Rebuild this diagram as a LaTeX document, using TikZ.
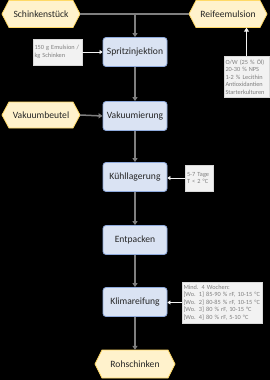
\documentclass[tikz,border=0pt]{standalone}
\usepackage{fontspec}
\setmainfont{Carlito}
\usetikzlibrary{arrows.meta}
\definecolor{procfill}{HTML}{DAE3F3}
\definecolor{procdraw}{HTML}{8FAADC}
\definecolor{hexfill}{HTML}{FFF2CC}
\definecolor{hexdraw}{HTML}{FFD966}
\definecolor{notefill}{HTML}{F2F2F2}
\definecolor{notedraw}{HTML}{D9D9D9}
\definecolor{notetext}{HTML}{7F7F7F}
\definecolor{arrgray}{HTML}{7F7F7F}
\definecolor{maintext}{HTML}{262626}
\newcommand\hexnode[6]{%
  \draw[hexs] ({#2-#4/2},#3) -- ({#2-#4/2+7},{#3-#5/2}) -- ({#2+#4/2-7},{#3-#5/2})
    -- ({#2+#4/2},#3) -- ({#2+#4/2-7},{#3+#5/2}) -- ({#2-#4/2+7},{#3+#5/2}) -- cycle;
  \node[hext, minimum width=#4pt, minimum height=#5pt] (#1) at (#2,#3) {#6};}
\begin{document}
\begin{tikzpicture}[x=1pt,y=-1pt,
  proc/.style={rectangle, rounded corners=3pt, fill=procfill, draw=procdraw, line width=0.8pt,
    minimum width=64pt, minimum height=29pt, inner sep=0pt, text=maintext,
    font=\fontsize{9.6}{11}\selectfont},
  hexs/.style={fill=hexfill, draw=hexdraw, line width=0.8pt},
  hext/.style={inner sep=0pt, text=maintext, font=\fontsize{9.6}{11}\selectfont},
  note/.style={rectangle, fill=notefill, draw=notedraw, line width=0.4pt, text=notetext,
    inner sep=1.5pt, align=left, anchor=center, font=\fontsize{6.3}{7.5}\selectfont},
  garr/.style={draw=arrgray, line width=1.5pt, -{Triangle[length=4pt,width=5pt]}},
  gline/.style={draw=arrgray, line width=1.5pt},
  warr/.style={draw=notefill, line width=1pt, -{Triangle[length=3pt,width=4pt]}},
  wbig/.style={draw=notefill, line width=1.5pt, -{Triangle[length=4pt,width=5pt]}}
]
\useasboundingbox[fill=black] (0,0) rectangle (270,380);

\hexnode{schink}{41}{14}{78}{27}{Schinkenstück}
\hexnode{reife}{228}{14}{78}{27}{Reifeemulsion}
\hexnode{vakb}{41}{115}{78}{26}{Vakuumbeutel}
\hexnode{roh}{135}{364}{80}{28}{Rohschinken}

\node[proc] (spritz) at (135,52) {Spritzinjektion};
\node[proc] (vakm) at (135,116) {Vakuumierung};
\node[proc] (kuehl) at (135,177) {Kühllagerung};
\node[proc] (entp) at (135,240) {Entpacken};
\node[proc] (klima) at (135,302) {Klimareifung};

\node[note, minimum width=49pt, minimum height=26pt, text width=46pt] (n1) at (57.5,52)
  {150 g Emulsion /\\kg Schinken};
\node[note, minimum width=45pt, minimum height=41pt, text width=42pt] (n2) at (246.5,76.5)
  {O/W (25 \% Öl)\\20-30 \% NPS\\1-2 \% Lecithin\\Antioxidantien\\Starterkulturen};
\node[note, minimum width=28pt, minimum height=26pt, text width=25pt] (n3) at (199.5,178)
  {5-7 Tage\\T < 2 °C};
\node[note, minimum width=80pt, minimum height=41pt, text width=77pt] (n4) at (222,302.5)
  {Mind. 4 Wochen:\\{[}Wo. 1{]} 85-90 \% rF, 10-15 °C\\{[}Wo. 2{]} 80-85 \% rF, 10-15 °C\\{[}Wo. 3{]} 80 \% rF, 10-15 °C\\{[}Wo. 4{]} 80 \% rF, 5-10 °C};

\coordinate (j) at (135,14);
\draw[gline] (schink.east) -- (reife.west);
\draw[garr] (j) -- (spritz.north);
\draw[garr] (spritz) -- (vakm);
\draw[garr] (vakb.east) -- (vakm.west);
\draw[garr] (vakm) -- (kuehl);
\draw[garr] (kuehl) -- (entp);
\draw[garr] (entp) -- (klima);
\draw[garr] (klima) -- (roh);

\draw[warr] (n1.east) -- (spritz.west);
\draw[wbig] (n2.north) -- (n2.north |- reife.south);
\draw[warr] (n3.west) -- (n3.west -| kuehl.east);
\draw[warr] (n4.west) -- (n4.west -| klima.east);
\end{tikzpicture}
\end{document}
